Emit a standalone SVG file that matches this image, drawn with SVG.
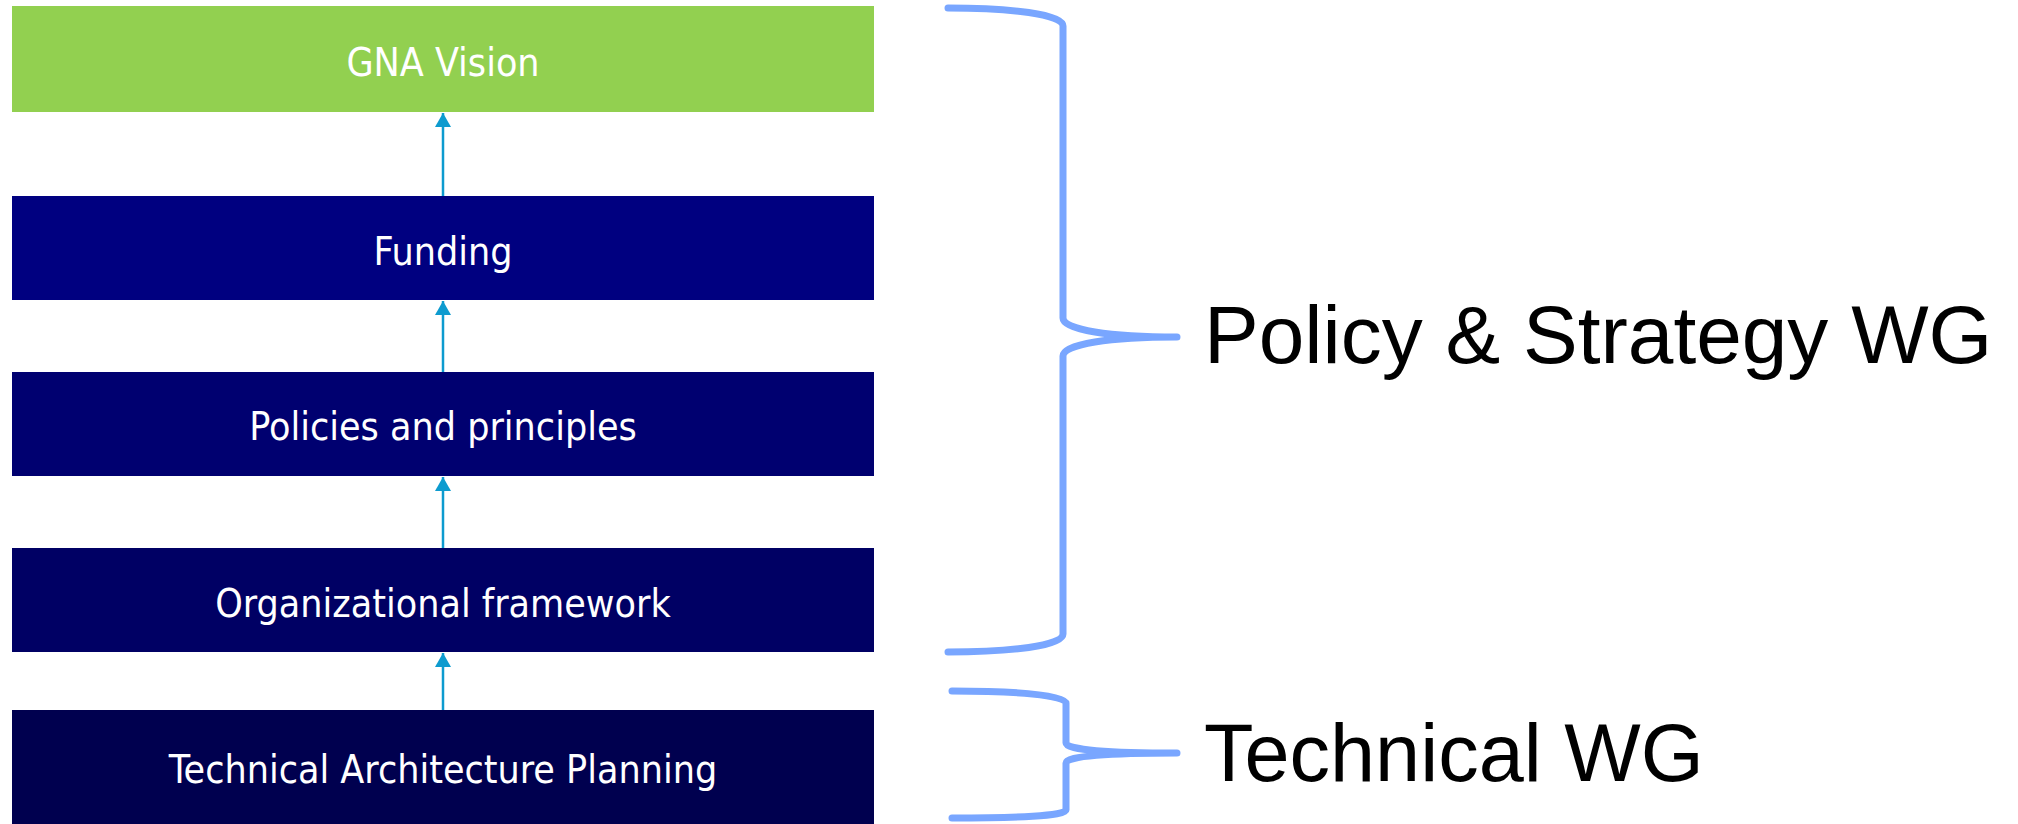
<svg xmlns="http://www.w3.org/2000/svg" width="2018" height="824" viewBox="0 0 2018 824">
<style>
.lbl{font-family:"DejaVu Sans Condensed","DejaVu Sans",sans-serif;font-size:39px;fill:#ffffff;text-anchor:middle}
.big{font-family:"Liberation Sans",Arial,sans-serif;fill:#000000}
.conn{stroke:#0D9BCF;stroke-width:2.5;fill:none}
.brace{stroke:#79A6FF;stroke-width:7;fill:none;stroke-linecap:round;stroke-linejoin:round}
</style>
<defs>
<marker id="ah" viewBox="0 0 14 22" refX="14" refY="11" markerWidth="14" markerHeight="22" markerUnits="userSpaceOnUse" orient="auto">
<path d="M0,3 L14,11 L0,19 Z" fill="#0D9BCF"/>
</marker>
</defs>
<rect width="2018" height="824" fill="#ffffff"/>
<g id="gna-vision">
<rect x="12" y="6" width="862" height="106" fill="#92D050"/>
<text class="lbl" x="443" y="76">GNA Vision</text>
</g>
<g id="funding">
<rect x="12" y="196" width="862" height="104" fill="#000080"/>
<text class="lbl" x="443" y="265">Funding</text>
</g>
<g id="policies">
<rect x="12" y="372" width="862" height="104" fill="#000070"/>
<text class="lbl" x="443" y="440">Policies and principles</text>
</g>
<g id="org-framework">
<rect x="12" y="548" width="862" height="104" fill="#000064"/>
<text class="lbl" x="443" y="617">Organizational framework</text>
</g>
<g id="tech-arch">
<rect x="12" y="710" width="862" height="114" fill="#00004F"/>
<text class="lbl" x="443" y="783">Technical Architecture Planning</text>
</g>
<g id="connectors">
<line class="conn" x1="443" y1="196" x2="443" y2="113" marker-end="url(#ah)"/>
<line class="conn" x1="443" y1="372" x2="443" y2="301" marker-end="url(#ah)"/>
<line class="conn" x1="443" y1="548" x2="443" y2="477" marker-end="url(#ah)"/>
<line class="conn" x1="443" y1="710" x2="443" y2="653" marker-end="url(#ah)"/>
</g>
<g id="policy-brace">
<path class="brace" d="M948,8 C1010,8 1063,14 1063,26 L1063,318 C1063,330 1110,337 1177,337 C1110,337 1063,344 1063,356 L1063,634 C1063,646 1010,652 948,652"/>
<text class="big" x="1204" y="363" font-size="82">Policy &amp; Strategy WG</text>
</g>
<g id="technical-brace">
<path class="brace" d="M952,691 C1015,691 1066,695 1066,703 L1066,743 C1066,750 1110,753 1177,753 C1110,753 1066,756 1066,763 L1066,810 C1066,816 1015,818 952,818"/>
<text class="big" x="1204" y="781" font-size="81">Technical WG</text>
</g>
</svg>
